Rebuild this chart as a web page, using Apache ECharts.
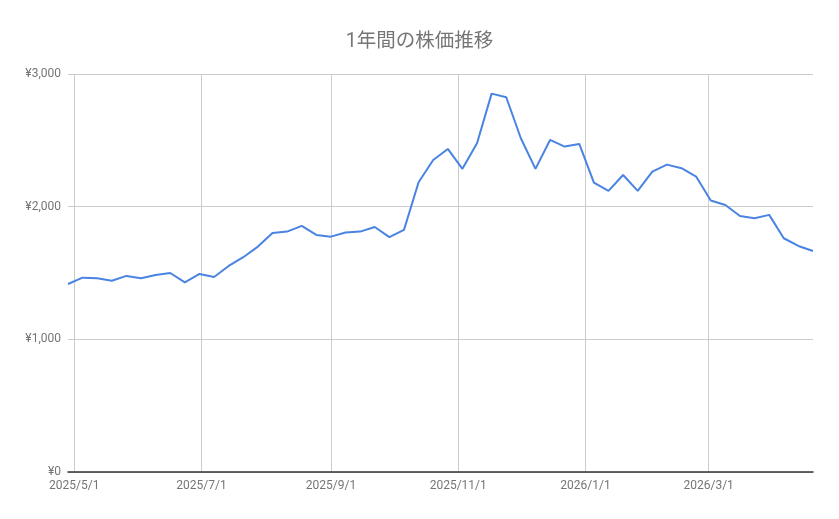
<!DOCTYPE html>
<html>
<head>
<meta charset="utf-8">
<script src="https://cdn.jsdelivr.net/npm/echarts@6/dist/echarts.min.js"></script>
<style>
html,body{margin:0;padding:0;background:#fff;}
#chart{width:839px;height:519px;}
</style>
</head>
<body>
<div id="chart"></div>
<script>
//週次データ（2025/4/28 から毎週）
var start_date = [2025, 4, 28];
var price_values = [
	1417, 1465, 1460, 1442, 1478, 1460, 1485, 1500, 1430, 1493,
	1470, 1553, 1619, 1699, 1802, 1812, 1855, 1787, 1774, 1805,
	1812, 1847, 1770, 1825, 2184, 2352, 2435, 2285, 2478, 2852,
	2825, 2516, 2285, 2503, 2453, 2473, 2182, 2119, 2239, 2119,
	2264, 2317, 2290, 2227, 2046, 2013, 1930, 1913, 1938, 1762,
	1704, 1666
];
//目盛りラベル（月初）
var tick_dates = ['2025/5/1', '2025/7/1', '2025/9/1', '2025/11/1', '2026/1/1', '2026/3/1'];
var y_ticks = [0, 1000, 2000, 3000];
var chart_title = '1年間の株価推移';

function to_time(str){
	var p = str.split('/');
	return new Date(+p[0], +p[1] - 1, +p[2]).getTime();
}

var series_data = [];
for(var i = 0; i < price_values.length; i++){
	var d = new Date(start_date[0], start_date[1] - 1, start_date[2] + 7 * i);
	series_data.push([d.getTime(), price_values[i]]);
}
var tick_values = tick_dates.map(to_time);

var myChart = echarts.init(document.getElementById('chart'));
var font = 'Roboto, "Noto Sans CJK JP", sans-serif';
myChart.setOption({
	animation: false,
	backgroundColor: '#fff',
	title: {
		text: chart_title,
		left: 'center',
		top: 27,
		textStyle: {color: '#757575', fontSize: 19.5, fontWeight: 'normal', fontFamily: font}
	},
	grid: {left: 68, right: 26, top: 74, bottom: 47, containLabel: false},
	xAxis: {
		type: 'value',
		min: series_data[0][0],
		max: series_data[series_data.length - 1][0],
		axisLine: {show: true, onZero: false, lineStyle: {color: '#333', width: 1.5}},
		axisTick: {show: false, customValues: tick_values},
		axisLabel: {
			customValues: tick_values,
			showMinLabel: true,
			showMaxLabel: true,
			color: '#757575',
			fontSize: 12,
			fontFamily: font,
			margin: 8,
			hideOverlap: false,
			formatter: function(v){
				var d = new Date(v);
				return d.getFullYear() + '/' + (d.getMonth() + 1) + '/' + d.getDate();
			}
		},
		splitLine: {show: true, lineStyle: {color: '#cccccc', width: 1}}
	},
	yAxis: {
		type: 'value',
		min: y_ticks[0],
		max: y_ticks[y_ticks.length - 1],
		interval: 1000,
		axisLine: {show: false},
		axisTick: {show: false},
		axisLabel: {
			color: '#757575',
			fontSize: 12,
			fontFamily: font,
			margin: 7,
			formatter: function(v){
				return '¥' + v.toLocaleString('en-US');
			}
		},
		splitLine: {show: true, lineStyle: {color: '#cccccc', width: 1}}
	},
	series: [{
		type: 'line',
		data: series_data,
		showSymbol: false,
		lineStyle: {color: '#4a84e2', width: 2},
		itemStyle: {color: '#4a84e2'}
	}]
});
</script>
</body>
</html>
